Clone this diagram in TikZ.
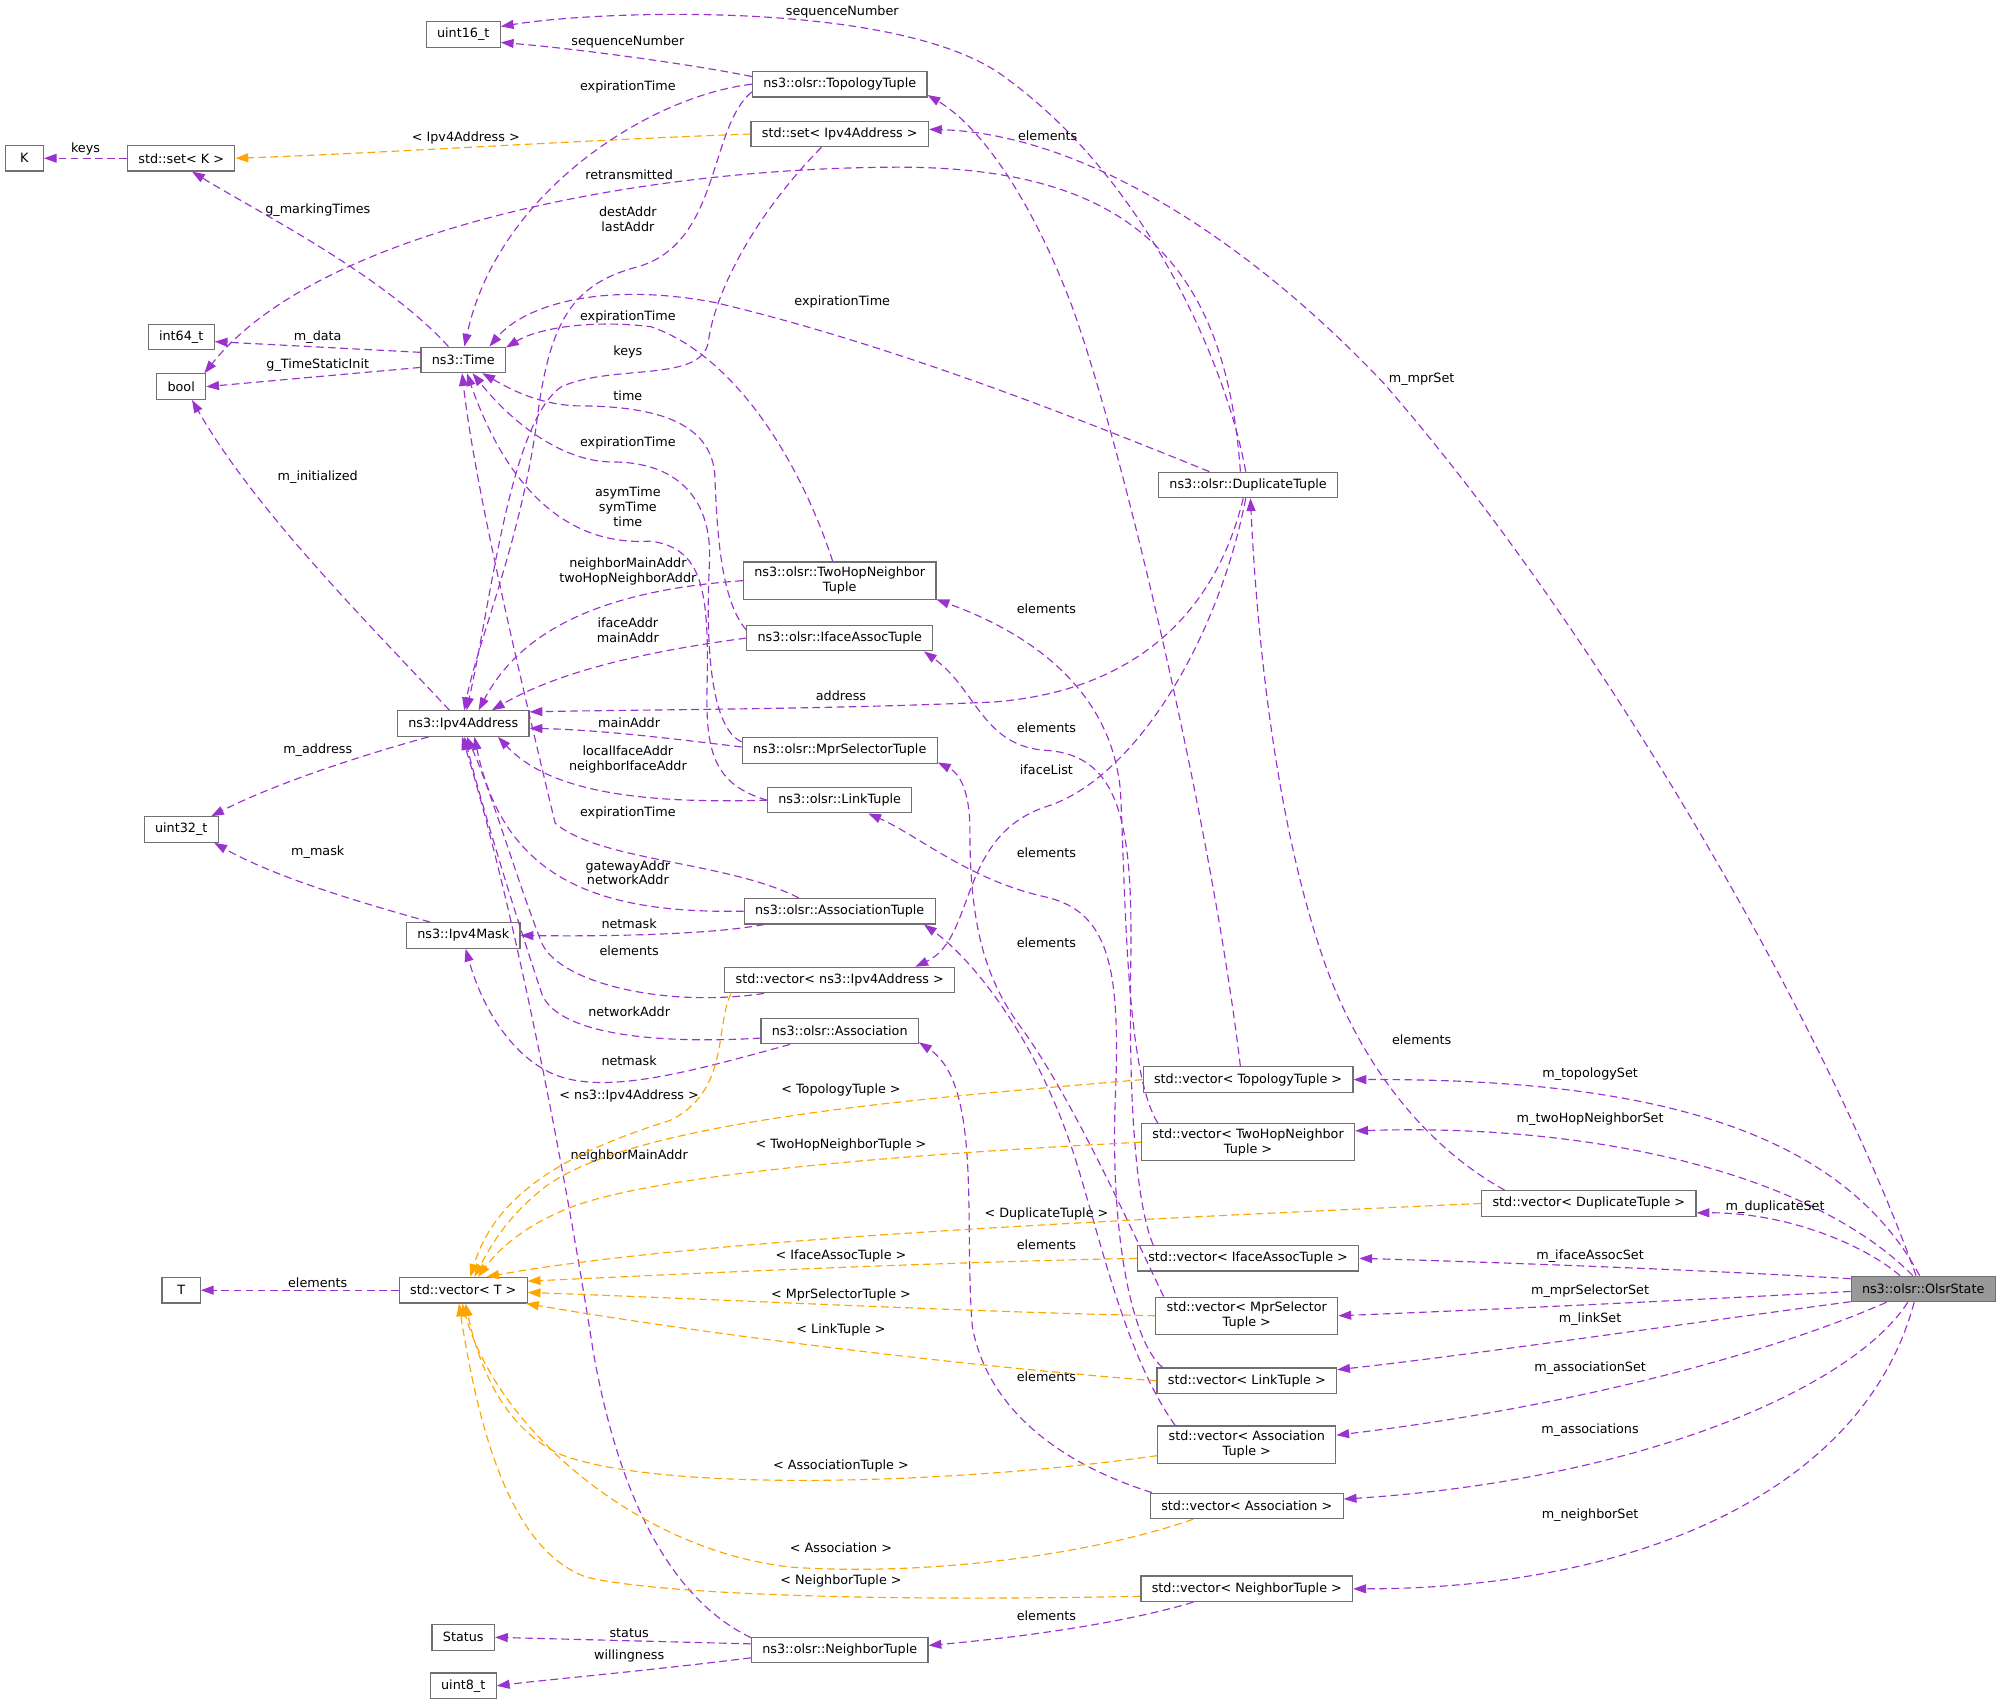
\documentclass[tikz,border=0pt]{standalone}
\usepackage{fontspec}
\setmainfont{DejaVu Sans}
\usetikzlibrary{arrows.meta}
\definecolor{edgepurple}{HTML}{9A32CD}
\definecolor{edgeorange}{HTML}{FFA500}
\definecolor{boxgray}{HTML}{707070}
\definecolor{stategray}{HTML}{999999}

\begin{document}
\begin{tikzpicture}[x=1pt,y=-1pt,
  cls/.style={draw=boxgray, line width=0.9pt, fill=white, inner xsep=8.5pt, inner ysep=4pt,
    minimum height=20pt, minimum width=30pt, align=center, font=\fontsize{10}{11.5}\selectfont},
  mem/.style={draw=edgepurple, line width=0.9pt, dash pattern=on 6pt off 3.5pt,
    -{Triangle[length=10pt,width=7pt]}},
  tpl/.style={mem, draw=edgeorange},
  lbl/.style={font=\fontsize{10}{11.5}\selectfont, align=center, inner sep=0pt, text=black}]

\useasboundingbox (0,0) rectangle (1568,1336);

\node[cls] (u16) at (363,27) {uint16\_t};
\node[cls] (topo) at (658,66) {ns3::olsr::TopologyTuple};
\node[cls] (K) at (19,124) {K};
\node[cls] (setK) at (142,124) {std::set< K >};
\node[cls] (setip) at (658,105) {std::set< Ipv4Address >};
\node[cls] (i64) at (142,264) {int64\_t};
\node[cls] (boolt) at (142,303) {bool};
\node[cls] (time) at (363,282) {ns3::Time};
\node[cls] (dup) at (978,380) {ns3::olsr::DuplicateTuple};
\node[cls] (twohop) at (658,455) {ns3::olsr::TwoHopNeighbor\\Tuple};
\node[cls] (iface) at (658,500) {ns3::olsr::IfaceAssocTuple};
\node[cls] (ipv4) at (363,567) {ns3::Ipv4Address};
\node[cls] (mprsel) at (658,588) {ns3::olsr::MprSelectorTuple};
\node[cls] (link) at (658,627) {ns3::olsr::LinkTuple};
\node[cls] (u32) at (142,650) {uint32\_t};
\node[cls] (assoct) at (658,714) {ns3::olsr::AssociationTuple};
\node[cls] (mask) at (363,733) {ns3::Ipv4Mask};
\node[cls] (vecip) at (658,768) {std::vector< ns3::Ipv4Address >};
\node[cls] (assoc) at (658,808) {ns3::olsr::Association};
\node[cls] (vtopo) at (978,846) {std::vector< TopologyTuple >};
\node[cls] (vtwohop) at (978,895) {std::vector< TwoHopNeighbor\\Tuple >};
\node[cls] (vdup) at (1245,943) {std::vector< DuplicateTuple >};
\node[cls] (viface) at (978,986) {std::vector< IfaceAssocTuple >};
\node[cls] (T) at (142,1011) {T};
\node[cls] (vT) at (363,1011) {std::vector< T >};
\node[cls, fill=stategray] (state) at (1507,1010) {ns3::olsr::OlsrState};
\node[cls] (vmpr) at (977,1031) {std::vector< MprSelector\\Tuple >};
\node[cls] (vlink) at (977,1082) {std::vector< LinkTuple >};
\node[cls] (vassoct) at (977,1132) {std::vector< Association\\Tuple >};
\node[cls] (vassoc) at (977,1180) {std::vector< Association >};
\node[cls] (vnb) at (977,1245) {std::vector< NeighborTuple >};
\node[cls] (status) at (363,1283) {Status};
\node[cls] (nb) at (658,1293) {ns3::olsr::NeighborTuple};
\node[cls] (u8) at (363,1321) {uint8\_t};

\draw[mem] (setK.west) -- (K.east) node[lbl] at (67,117) {keys};
\draw[tpl] (setip.west) .. controls (450,110) and (300,120) .. (setK.east) node[lbl] at (365,108) {< Ipv4Address >};
\draw[mem] (time.138) .. controls (300,215) and (200,165) .. (setK.-51) node[lbl] at (249,165) {g\_markingTimes};
\draw[mem] (time.170) -- (i64.-8) node[lbl] at (249,264) {m\_data};
\draw[mem] (time.190) -- (boolt.east) node[lbl] at (249,286) {g\_TimeStaticInit};
\draw[mem] (topo.175) .. controls (540,50) and (450,38) .. (u16.-12) node[lbl] at (492,33) {sequenceNumber};
\draw[mem] (dup.100) .. controls (962,290) and (900,140) .. (784,58) .. controls (700,0) and (470,8) .. (u16.12) node[lbl] at (660,9) {sequenceNumber};
\draw[mem] (topo.west) .. controls (510,75) and (390,150) .. (time.85) node[lbl] at (492,68) {expirationTime};
\draw[mem] (topo.185) .. controls (555,100) and (565,190) .. (500,209) .. controls (450,222) and (432,250) .. (422,320) .. controls (410,420) and (375,500) .. (ipv4.86) node[lbl] at (492,172) {destAddr\\lastAddr};
\draw[mem] (dup.120) .. controls (960,200) and (880,130) .. (700,131) .. controls (500,132) and (250,180) .. (boolt.30) node[lbl] at (493,137) {retransmitted};
\draw[mem] (dup.161) .. controls (850,330) and (700,270) .. (560,237) .. controls (470,220) and (410,240) .. (time.27) node[lbl] at (660,237) {expirationTime};
\draw[mem] (twohop.110) .. controls (630,370) and (580,280) .. (510,256) .. controls (460,250) and (420,258) .. (time.16) node[lbl] at (492,248) {expirationTime};
\draw[mem] (setip.-144) .. controls (590,170) and (560,230) .. (555,268) .. controls (550,300) and (480,285) .. (440,303) .. controls (400,330) and (385,470) .. (ipv4.76) node[lbl] at (492,276) {keys};
\draw[mem] (iface.175) .. controls (565,470) and (562,420) .. (560,370) .. controls (555,325) and (500,318) .. (450,318) .. controls (420,316) and (400,305) .. (time.-35) node[lbl] at (492,310) {time};
\draw[mem] (mprsel.175) .. controls (560,572) and (552,520) .. (556,440) .. controls (558,390) and (530,362) .. (480,362) .. controls (440,362) and (400,330) .. (time.-55) node[lbl] at (492,347) {expirationTime};
\draw[mem] (link.west) .. controls (560,615) and (553,590) .. (554,540) .. controls (556,460) and (550,430) .. (510,424) .. controls (450,428) and (400,390) .. (time.-75) node[lbl] at (492,397) {asymTime\\symTime\\time};
\draw[mem] (assoct.162) .. controls (570,675) and (470,675) .. (435,645) .. controls (405,520) and (372,380) .. (time.-95) node[lbl] at (492,637) {expirationTime};
\draw[mem] (ipv4.136) .. controls (290,490) and (200,400) .. (boolt.-51) node[lbl] at (249,374) {m\_initialized};
\draw[mem] (ipv4.-159) .. controls (290,590) and (220,612) .. (u32.24) node[lbl] at (249,588) {m\_address};
\draw[mem] (mask.158) .. controls (300,712) and (220,690) .. (u32.-22) node[lbl] at (249,668) {m\_mask};
\draw[mem] (twohop.west) .. controls (480,462) and (410,490) .. (ipv4.41) node[lbl] at (492,448) {neighborMainAddr\\twoHopNeighborAddr};
\draw[mem] (iface.west) .. controls (510,510) and (440,525) .. (ipv4.25) node[lbl] at (492,494) {ifaceAddr\\mainAddr};
\draw[mem] (dup.-110) .. controls (955,470) and (900,540) .. (780,550) .. controls (650,556) and (500,556) .. (ipv4.10) node[lbl] at (659,545) {address};
\draw[mem] (dup.-100) .. controls (955,500) and (890,610) .. (820,632) .. controls (750,655) and (765,735) .. (vecip.10) node[lbl] at (820,603) {ifaceList};
\draw[mem] (mprsel.178) .. controls (520,578) and (470,572) .. (ipv4.-4) node[lbl] at (493,566) {mainAddr};
\draw[mem] (link.west) .. controls (500,630) and (430,620) .. (ipv4.-21) node[lbl] at (492,595) {localIfaceAddr\\neighborIfaceAddr};
\draw[mem] (assoct.west) .. controls (470,716) and (395,690) .. (ipv4.-50) node[lbl] at (492,684) {gatewayAddr\\networkAddr};
\draw[mem] (assoct.-170) .. controls (560,732) and (480,734) .. (mask.east) node[lbl] at (493,724) {netmask};
\draw[mem] (vecip.-170) .. controls (520,790) and (440,770) .. (425,740) .. controls (405,690) and (385,620) .. (ipv4.-75) node[lbl] at (493,745) {elements};
\draw[mem] (assoc.-175) .. controls (520,818) and (440,812) .. (425,780) .. controls (405,720) and (380,640) .. (ipv4.-85) node[lbl] at (493,793) {networkAddr};
\draw[mem] (assoc.-165) .. controls (540,840) and (470,860) .. (430,840) .. controls (400,825) and (378,790) .. (mask.-80) node[lbl] at (493,831) {netmask};
\draw[mem] (nb.172) .. controls (540,1260) and (490,1200) .. (465,1060) .. controls (440,900) and (400,700) .. (ipv4.-95) node[lbl] at (493,906) {neighborMainAddr};
\draw[mem] (nb.176) -- (status.east) node[lbl] at (493,1280) {status};
\draw[mem] (nb.-175) .. controls (500,1310) and (430,1316) .. (u8.east) node[lbl] at (493,1298) {willingness};
\draw[mem] (vT.west) -- (T.east) node[lbl] at (249,1005) {elements};

\draw[mem] (vtopo.120) .. controls (950,650) and (880,350) .. (840,240) .. controls (810,160) and (770,100) .. (topo.-7) node[lbl] at (821,106) {elements};
\draw[mem] (vtwohop.168) .. controls (882,840) and (882,700) .. (878,620) .. controls (870,530) and (790,490) .. (twohop.-11) node[lbl] at (820,477) {elements};
\draw[mem] (viface.172) .. controls (895,955) and (884,900) .. (886,760) .. controls (888,650) and (880,592) .. (820,588) .. controls (770,585) and (765,540) .. (iface.-9) node[lbl] at (820,570) {elements};
\draw[mem] (vmpr.167) .. controls (885,960) and (840,860) .. (800,805) .. controls (770,765) and (760,720) .. (760,650) .. controls (760,620) and (752,606) .. (mprsel.-7) node[lbl] at (820,668) {elements};
\draw[mem] (vlink.171) .. controls (885,1050) and (870,960) .. (874,860) .. controls (878,760) and (870,715) .. (820,703) .. controls (760,690) and (720,655) .. (link.-25) node[lbl] at (820,739) {elements};
\draw[mem] (vassoct.165) .. controls (880,1060) and (860,960) .. (840,900) .. controls (810,810) and (760,750) .. (assoct.-9) node[lbl] at (820,975) {elements};
\draw[mem] (vassoc.172) .. controls (840,1150) and (775,1110) .. (762,1040) .. controls (755,960) and (770,850) .. (assoc.-8) node[lbl] at (820,1079) {elements};
\draw[mem] (vdup.171) .. controls (1120,900) and (1070,840) .. (1040,760) .. controls (1000,650) and (985,500) .. (dup.-80) node[lbl] at (1114,815) {elements};
\draw[mem] (vnb.-166) .. controls (880,1272) and (800,1283) .. (nb.3) node[lbl] at (820,1266) {elements};

\draw[mem] (state.118) .. controls (1430,800) and (1250,490) .. (1084,300) .. controls (980,190) and (850,105) .. (setip.3) node[lbl] at (1114,297) {m\_mprSet};
\draw[mem] (state.105) .. controls (1440,880) and (1280,845) .. (vtopo.east) node[lbl] at (1246,842) {m\_topologySet};
\draw[mem] (state.128) .. controls (1420,920) and (1250,880) .. (vtwohop.6) node[lbl] at (1246,877) {m\_twoHopNeighborSet};
\draw[mem] (state.150) .. controls (1460,975) and (1400,950) .. (vdup.-5) node[lbl] at (1391,946) {m\_duplicateSet};
\draw[mem] (state.172) .. controls (1350,996) and (1200,990) .. (viface.east) node[lbl] at (1246,984) {m\_ifaceAssocSet};
\draw[mem] (state.-178) .. controls (1300,1020) and (1150,1027) .. (vmpr.east) node[lbl] at (1246,1012) {m\_mprSelectorSet};
\draw[mem] (state.-170) .. controls (1300,1040) and (1150,1062) .. (vlink.7) node[lbl] at (1246,1034) {m\_linkSet};
\draw[mem] (state.-160) .. controls (1400,1055) and (1250,1100) .. (vassoct.6) node[lbl] at (1246,1072) {m\_associationSet};
\draw[mem] (state.-139) .. controls (1450,1090) and (1280,1160) .. (vassoc.4) node[lbl] at (1246,1121) {m\_associations};
\draw[mem] (state.-124) .. controls (1460,1170) and (1280,1245) .. (vnb.east) node[lbl] at (1246,1187) {m\_neighborSet};

\draw[tpl] (vecip.-173) .. controls (560,805) and (572,855) .. (525,878) .. controls (455,900) and (390,930) .. (vT.62) node[lbl] at (493,859) {< ns3::Ipv4Address >};
\draw[tpl] (vtopo.west) .. controls (700,862) and (500,880) .. (430,928) .. controls (400,950) and (385,975) .. (vT.50) node[lbl] at (659,854) {< TopologyTuple >};
\draw[tpl] (vtwohop.west) .. controls (700,905) and (520,920) .. (450,945) .. controls (410,960) and (390,980) .. (vT.42) node[lbl] at (659,897) {< TwoHopNeighborTuple >};
\draw[tpl] (vdup.west) .. controls (900,955) and (550,970) .. (vT.30) node[lbl] at (820,951) {< DuplicateTuple >};
\draw[tpl] (viface.west) .. controls (700,990) and (500,1000) .. (vT.8) node[lbl] at (659,984) {< IfaceAssocTuple >};
\draw[tpl] (vmpr.west) .. controls (760,1028) and (560,1018) .. (vT.-2) node[lbl] at (659,1015) {< MprSelectorTuple >};
\draw[tpl] (vlink.west) .. controls (750,1070) and (550,1045) .. (vT.-12) node[lbl] at (659,1042) {< LinkTuple >};
\draw[tpl] (vassoct.-173) .. controls (750,1163) and (520,1170) .. (440,1140) .. controls (395,1120) and (375,1070) .. (vT.-80) node[lbl] at (659,1149) {< AssociationTuple >};
\draw[tpl] (vassoc.-166) .. controls (850,1220) and (720,1235) .. (620,1228) .. controls (500,1215) and (390,1120) .. (vT.-95) node[lbl] at (659,1213) {< Association >};
\draw[tpl] (vnb.-176) .. controls (700,1255) and (520,1250) .. (460,1236) .. controls (400,1215) and (375,1120) .. (vT.-108) node[lbl] at (659,1239) {< NeighborTuple >};

\end{tikzpicture}
\end{document}
